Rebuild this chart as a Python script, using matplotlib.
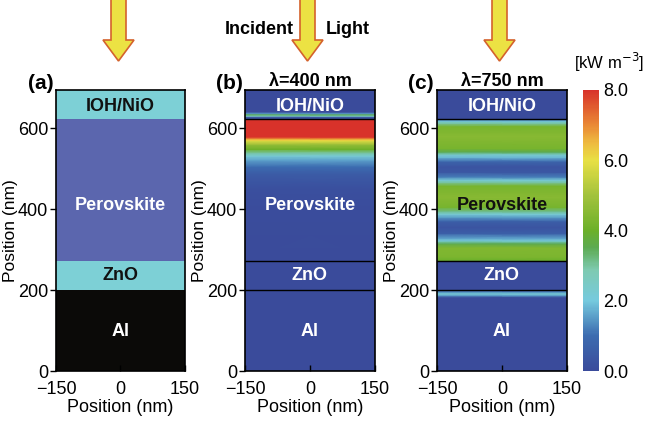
import numpy as np
from matplotlib import pyplot as plt
from matplotlib.colors import LinearSegmentedColormap
from matplotlib.patches import FancyArrow

# layer stack (nm)
layer_names = ["Al", "ZnO", "Perovskite", "IOH/NiO"]
layer_bottom = [0, 200, 273, 623]
layer_top = [200, 273, 623, 695]
layer_colors_a = ["#0b0a08", "#7dd0d6", "#5b66ae", "#7dd0d6"]
text_colors_a = ["white", "#111111", "white", "#111111"]
text_colors_b = ["white", "white", "white", "white"]
text_colors_c = ["white", "white", "#111111", "white"]
label_y = [98, 236, 410, 655]

# absorption profile, lambda = 400 nm  (kW m^-3)
y_b = [0, 273, 400, 450, 488, 505, 522, 532, 540, 548, 560, 570, 575, 579,
       600, 622, 624, 628, 631, 634, 637, 641, 695]
v_b = [0, 0, 0.05, 0.15, 0.5, 1.0, 1.6, 2.2, 3.0, 4.0, 4.8, 6.0, 7.0, 8.0,
       10, 12, 0.2, 0.3, 2.5, 3.5, 1.5, 0, 0]

# absorption profile, lambda = 750 nm
y_c = [0, 182, 187, 191, 195, 199, 200, 273, 274, 282, 305, 315, 322, 328,
       340, 355, 370, 380, 388, 396, 405, 430, 458, 466, 472, 480, 492, 505,
       518, 528, 535, 542, 550, 580, 605, 612, 617, 621, 623, 624, 695]
v_c = [0, 0, 1.5, 2.2, 1.5, 0.3, 0, 0, 4.0, 4.3, 4.4, 3.5, 2.2, 1.6,
       0.6, 0.3, 0.6, 1.5, 2.2, 3.2, 4.2, 4.5, 4.2, 3.0, 2.2, 1.2, 0.4, 0.3,
       0.8, 1.8, 2.3, 3.5, 4.2, 4.5, 4.2, 3.0, 2.2, 1.5, 1.0, 0, 0]

cb_ticks = [0.0, 2.0, 4.0, 6.0, 8.0]

cmap = LinearSegmentedColormap.from_list("abs", [
    (0.0, "#3a4b9b"), (0.125, "#3c6cb0"), (0.25, "#76cade"), (0.36, "#7ecab0"),
    (0.44, "#5caa50"), (0.5, "#6cb02a"), (0.625, "#a2c23c"), (0.75, "#e8e044"),
    (0.81, "#eebc40"), (0.875, "#ea8a35"), (1.0, "#d8322a")])

plt.rcParams["font.family"] = "Liberation Sans"
plt.rcParams["font.size"] = 13

fig = plt.figure(figsize=(6.46, 4.21), dpi=100)
W, H = 646, 421
bot, hgt = 1 - 371 / H, 281 / H
ax_a = fig.add_axes([56 / W, bot, 129 / W, hgt])
ax_b = fig.add_axes([245 / W, bot, 130 / W, hgt])
ax_c = fig.add_axes([437 / W, bot, 130 / W, hgt])
cax = fig.add_axes([583 / W, bot, 16 / W, hgt])


def style(ax, tag, title=None):
    ax.set_xlim(-150, 150)
    ax.set_ylim(0, 695)
    ax.set_xticks([-150, 0, 150])
    ax.set_yticks([0, 200, 400, 600])
    ax.tick_params(axis="x", direction="in", length=4, width=1, pad=7)
    ax.tick_params(axis="y", direction="out", length=4, width=1, pad=1.5)
    ax.set_xlabel("Position (nm)", labelpad=1)
    ax.set_ylabel("Position (nm)", labelpad=0, fontsize=12.5)
    for s in ax.spines.values():
        s.set_linewidth(1.2)
    ax.text(-0.22, 0.99, tag, transform=ax.transAxes, fontsize=15,
            fontweight="bold", ha="left", va="bottom")
    if title:
        ax.set_title(title, fontsize=13, fontweight="bold", pad=2)


def labels(ax, colors):
    for name, y, c in zip(layer_names, label_y, colors):
        ax.text(0, y, name, color=c, fontsize=13, fontweight="bold",
                ha="center", va="center")


# (a) layer structure
ax_a.bar(0, np.subtract(layer_top, layer_bottom), bottom=layer_bottom,
         width=300, color=layer_colors_a, linewidth=0)
labels(ax_a, text_colors_a)
style(ax_a, "(a)")

# (b), (c) absorption maps
for ax, y, v, tc, tag, title in [(ax_b, y_b, v_b, text_colors_b, "(b)", "λ=400 nm"),
                                  (ax_c, y_c, v_c, text_colors_c, "(c)", "λ=750 nm")]:
    v = np.array(v, dtype=float)
    pm = ax.pcolormesh([-150, 150], y, np.column_stack([v, v]),
                       shading="gouraud", cmap=cmap, vmin=0, vmax=8)
    for yb in layer_bottom[1:]:
        ax.axhline(yb, color="black", lw=1)
    labels(ax, tc)
    style(ax, tag, title)

cb = fig.colorbar(pm, cax=cax, ticks=cb_ticks)
cb.ax.set_yticklabels([f"{t:.1f}" for t in cb_ticks])
cb.outline.set_visible(False)
cb.ax.tick_params(length=0, labelsize=13, pad=3)
fig.text(644 / W, 1 - 62 / H, "[kW m$^{-3}$]", ha="right", va="center", fontsize=12)

# incident light arrows
over = fig.add_axes([0, 0, 1, 1], zorder=5)
over.set_xlim(0, W)
over.set_ylim(H, 0)
over.axis("off")
for xc in [118.5, 307.5, 499.5]:
    over.add_patch(FancyArrow(xc, -2, 0, 63, width=15, head_width=31,
                              head_length=21, length_includes_head=True,
                              facecolor="#ece243", edgecolor="#d4622c", lw=1.2))
over.text(259, 30, "Incident", fontsize=13, fontweight="bold", ha="center", va="center")
over.text(348, 30, "Light", fontsize=13, fontweight="bold", ha="center", va="center")

fig.savefig("out.png", dpi=100)
